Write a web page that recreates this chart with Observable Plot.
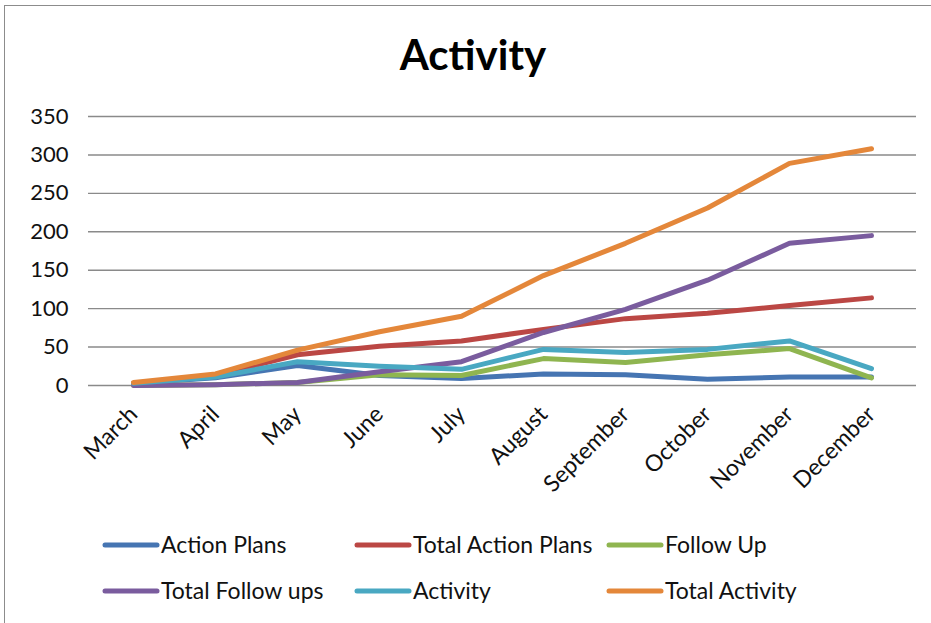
<!DOCTYPE html>
<html>
<head>
<meta charset="utf-8">
<script src="https://cdn.jsdelivr.net/npm/d3@7"></script>
<script src="https://cdn.jsdelivr.net/npm/@observablehq/plot@0.6"></script>
<style>
  html, body { margin: 0; padding: 0; background: #fff; }
  #wrap { position: relative; width: 931px; height: 623px; overflow: hidden; font-family: Lato, "Liberation Sans", Arial, sans-serif; }
  #frame { position: absolute; left: 4px; top: 5px; width: 1000px; height: 700px; border-left: 1.5px solid #8c8c8c; border-top: 1.5px solid #8c8c8c; }
  #title { position: absolute; left: 0; width: 946px; top: 29px; text-align: center; font-size: 42px; font-weight: bold; color: #000; }
  #chart { position: absolute; left: 0; top: 0; }
  #legend { position: absolute; left: 0; top: 0; }
</style>
</head>
<body>
<div id="wrap">
  <div id="frame"></div>
  <div id="chart"></div>
  <div id="title">Activity</div>
  <svg id="legend" width="931" height="623"></svg>
</div>
<script>
const months = ["March","April","May","June","July","August","September","October","November","December"];
const seriesNames = ["Action Plans","Total Action Plans","Follow Up","Total Follow ups","Activity","Total Activity"];
const colors = ["#4675B2","#BB4744","#8FB550","#7A5C9E","#49A8C2","#E4873A"];
const actionPlans      = [3, 10, 26, 13, 9, 15, 14, 8, 11, 11];
const totalActionPlans = [3, 13, 40, 51, 58, 73, 87, 94, 104, 114];
const followUp         = [0, 1, 4, 14, 13, 35, 30, 40, 48, 10];
const totalFollowUps   = [0, 1, 4, 18, 31, 69, 99, 137, 185, 195];
const activity         = [3, 11, 31, 25, 21, 47, 43, 47, 58, 22];
const totalActivity    = [4, 15, 46, 70, 90, 143, 185, 231, 289, 308];
const yTicks = [0, 50, 100, 150, 200, 250, 300, 350];

const allSeries = [actionPlans, totalActionPlans, followUp, totalFollowUps, activity, totalActivity];
const data = [];
allSeries.forEach((vals, si) => vals.forEach((v, i) => data.push({month: months[i], value: v, series: seriesNames[si]})));

const W = 931, H = 623;
const plot = Plot.plot({
  width: W, height: H,
  marginLeft: 88, marginRight: 15, marginTop: 116, marginBottom: H - 385,
  style: {fontFamily: "Lato, 'Liberation Sans', Arial, sans-serif", fontSize: "22px", color: "#111", background: "transparent"},
  x: {type: "point", domain: months, padding: 0.5, label: null},
  y: {domain: [0, 350], ticks: yTicks, label: null},
  color: {domain: seriesNames, range: colors},
  marks: [
    Plot.ruleY(yTicks, {stroke: "#8a8a8a", strokeWidth: 1.4, strokeOpacity: 1}),
    Plot.axisY({ticks: yTicks, tickSize: 0, tickPadding: 20, fontSize: 22, label: null}),
    Plot.axisX({tickSize: 0, tickPadding: 25, tickRotate: -45, fontSize: 23, label: null}),
    Plot.line(data, {x: "month", y: "value", z: "series", stroke: "series", strokeWidth: 5, strokeLinejoin: "round", strokeLinecap: "round"})
  ]
});
document.getElementById("chart").appendChild(plot);

// Legend
const lg = d3.select("#legend");
const colX = [103, 355, 607];
const rowY = [545, 591];
seriesNames.forEach((name, i) => {
  const cx = colX[i % 3], cy = rowY[Math.floor(i / 3)];
  lg.append("line").attr("x1", cx + 2).attr("x2", cx + 54).attr("y1", cy).attr("y2", cy)
    .attr("stroke", colors[i]).attr("stroke-width", 5).attr("stroke-linecap", "round");
  lg.append("text").attr("x", cx + 58).attr("y", cy).attr("dy", "0.36em")
    .attr("font-family", "Lato, 'Liberation Sans', Arial, sans-serif").attr("font-size", 23).attr("fill", "#111")
    .text(name);
});
</script>
</body>
</html>
